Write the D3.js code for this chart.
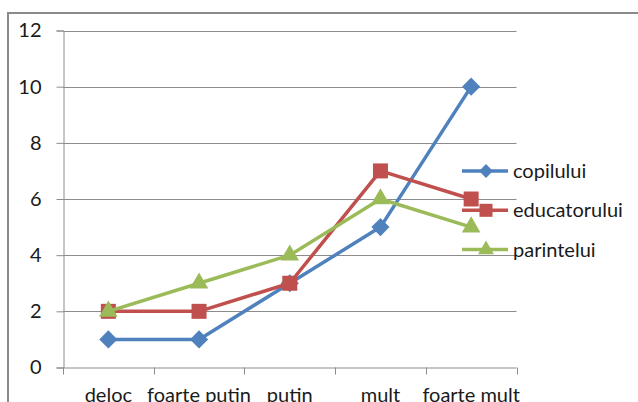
<!DOCTYPE html>
<html>
<head>
<meta charset="utf-8">
<script src="https://cdn.jsdelivr.net/npm/d3@7"></script>
<style>
  html, body { margin: 0; padding: 0; background: #fff; overflow: hidden; }
  svg { display: block; }
  text { font-family: Lato, "Open Sans", sans-serif; fill: #1a1a1a; }
</style>
</head>
<body>
<svg id="chart" width="638" height="402"></svg>
<script>
// Answer categories along the x axis
const categories = ["deloc", "foarte putin", "putin", "mult", "foarte mult"];

// One series per respondent
const seriesNames = ["copilului", "educatorului", "parintelui"];
const copilului = [1, 1, 3, 5, 10];
const educatorului = [2, 2, 3, 7, 6];
const parintelui = [2, 3, 4, 6, 5];

const yTicks = [0, 2, 4, 6, 8, 10, 12];

// A diamond drawn as a square turned by 45 degrees
const squareDiamond = {
  draw(context, size) {
    const r = Math.sqrt(size) / Math.SQRT2;
    context.moveTo(0, -r);
    context.lineTo(r, 0);
    context.lineTo(0, r);
    context.lineTo(-r, 0);
    context.closePath();
  }
};

const series = [
  { name: seriesNames[0], values: copilului, color: "#4F81BD", symbol: squareDiamond, size: 165, legendSize: 95 },
  { name: seriesNames[1], values: educatorului, color: "#C0504D", symbol: d3.symbolSquare, size: 225, legendSize: 170 },
  { name: seriesNames[2], values: parintelui, color: "#9BBB59", symbol: d3.symbolTriangle, size: 150, legendSize: 110 }
];

const svg = d3.select("#chart");

// Outer chart frame (runs past the right and bottom edges)
svg.append("rect")
  .attr("x", 8).attr("y", 13)
  .attr("width", 700).attr("height", 500)
  .attr("fill", "none")
  .attr("stroke", "#8a8a8a")
  .attr("stroke-width", 2);

const plot = { left: 63, right: 516.5, top: 30.5, bottom: 367.5 };

const x = d3.scaleBand().domain(categories).range([plot.left, plot.right]);
const y = d3.scaleLinear().domain([0, 12]).range([plot.bottom, plot.top]);

// Horizontal gridlines
svg.append("g")
  .selectAll("line")
  .data(yTicks.filter(t => t > 0))
  .join("line")
  .attr("x1", plot.left).attr("x2", plot.right)
  .attr("y1", d => Math.round(y(d)) + 0.5).attr("y2", d => Math.round(y(d)) + 0.5)
  .attr("stroke", "#8c8c8c").attr("stroke-width", 1);

// Y axis
const yAxis = svg.append("g")
  .attr("transform", `translate(${plot.left + 0.5},0)`)
  .call(d3.axisLeft(y).tickValues(yTicks).tickSize(7).tickPadding(15).tickFormat(d3.format("d")));
yAxis.select(".domain").attr("stroke", "#8c8c8c");
yAxis.selectAll(".tick line").attr("stroke", "#8c8c8c");
yAxis.selectAll(".tick text")
  .attr("font-size", 20).attr("fill", "#1a1a1a")
  .style("font-family", "Lato, 'Open Sans', sans-serif");

// X axis: ticks sit on the category boundaries
const boundaries = d3.range(categories.length + 1).map(i => plot.left + i * x.bandwidth());
const xAxisG = svg.append("g");
xAxisG.append("line")
  .attr("x1", plot.left).attr("x2", plot.right)
  .attr("y1", plot.bottom + 0.5).attr("y2", plot.bottom + 0.5)
  .attr("stroke", "#8c8c8c");
xAxisG.selectAll("line.tick")
  .data(boundaries)
  .join("line")
  .attr("class", "tick")
  .attr("x1", d => Math.round(d) + 0.5).attr("x2", d => Math.round(d) + 0.5)
  .attr("y1", plot.bottom).attr("y2", plot.bottom + 7)
  .attr("stroke", "#8c8c8c");
xAxisG.selectAll("text")
  .data(categories)
  .join("text")
  .attr("x", d => x(d) + x.bandwidth() / 2)
  .attr("y", 401.5)
  .attr("text-anchor", "middle")
  .attr("font-size", 20)
  .text(d => d);

// Lines and markers
const line = d3.line()
  .x((d, i) => x(categories[i]) + x.bandwidth() / 2)
  .y(d => y(d));

series.forEach(s => {
  const g = svg.append("g");
  g.append("path")
    .datum(s.values)
    .attr("d", line)
    .attr("fill", "none")
    .attr("stroke", s.color)
    .attr("stroke-width", 3.5)
    .attr("stroke-linejoin", "round");
  g.selectAll("path.marker")
    .data(s.values)
    .join("path")
    .attr("class", "marker")
    .attr("d", d3.symbol().type(s.symbol).size(s.size))
    .attr("transform", (d, i) => `translate(${x(categories[i]) + x.bandwidth() / 2},${y(d)})`)
    .attr("fill", s.color);
});

// Legend
const legend = svg.append("g").attr("transform", "translate(462,171)");
series.forEach((s, i) => {
  const row = legend.append("g").attr("transform", `translate(0,${i * 39.3})`);
  row.append("line")
    .attr("x1", 0).attr("x2", 46)
    .attr("stroke", s.color).attr("stroke-width", 3.5);
  row.append("path")
    .attr("d", d3.symbol().type(s.symbol).size(s.legendSize))
    .attr("transform", "translate(24,0)")
    .attr("fill", s.color);
  row.append("text")
    .attr("x", 51).attr("y", 0)
    .attr("dy", "0.35em")
    .attr("font-size", 20)
    .text(s.name);
});
</script>
</body>
</html>
